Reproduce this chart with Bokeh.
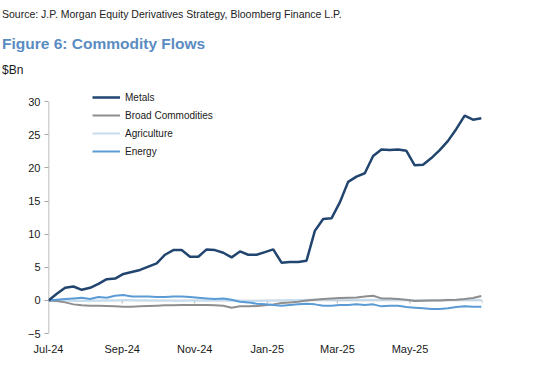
import pandas as pd
from bokeh.plotting import figure
from bokeh.layouts import column
from bokeh.models import (Range1d, FixedTicker, DatetimeTickFormatter, Span, Div,
                          Legend, LegendItem, ColumnDataSource)
from bokeh.embed import file_html
from bokeh.resources import INLINE

# ---------------- data ----------------
start_date = "2024-07-01"
n_weeks = 53

metals = [0.0, 1.0, 1.9, 2.1, 1.6, 1.9, 2.5, 3.2, 3.3, 4.0, 4.3, 4.6, 5.1, 5.6, 6.9,
          7.6, 7.6, 6.6, 6.6, 7.7, 7.6, 7.2, 6.5, 7.4, 6.9, 6.9, 7.3, 7.7, 5.7, 5.8,
          5.8, 6.0, 10.5, 12.3, 12.4, 14.8, 17.9, 18.7, 19.2, 21.8, 22.8, 22.7, 22.8,
          22.6, 20.4, 20.5, 21.5, 22.7, 24.1, 25.9, 27.9, 27.3, 27.5]
broad = [0.0, -0.1, -0.3, -0.6, -0.75, -0.8, -0.8, -0.85, -0.9, -0.95, -0.95, -0.9,
         -0.85, -0.8, -0.75, -0.75, -0.7, -0.7, -0.7, -0.7, -0.75, -0.8, -1.1, -0.9,
         -0.9, -0.85, -0.75, -0.6, -0.4, -0.3, -0.2, 0.0, 0.1, 0.2, 0.3, 0.35, 0.4,
         0.45, 0.6, 0.7, 0.3, 0.3, 0.2, 0.1, -0.1, -0.05, 0.0, 0.0, 0.05, 0.1, 0.2,
         0.35, 0.65]
agriculture = [0.0, 0.0, -0.05, -0.1, -0.1, -0.1, -0.05, 0.0, 0.0, 0.05, 0.05, 0.0,
               0.0, 0.0, 0.0, -0.05, -0.05, 0.0, 0.0, 0.0, 0.0, 0.0, -0.05, -0.05,
               -0.1, -0.1, -0.05, 0.0, 0.0, 0.05, 0.05, 0.1, 0.1, 0.1, 0.1, 0.15, 0.15,
               0.1, 0.1, 0.1, 0.1, 0.05, 0.05, 0.05, 0.05, 0.05, 0.05, 0.05, 0.1, 0.1,
               0.1, 0.1, 0.1]
energy = [0.0, 0.1, 0.2, 0.3, 0.4, 0.2, 0.5, 0.4, 0.7, 0.8, 0.6, 0.6, 0.6, 0.5, 0.5,
          0.6, 0.6, 0.5, 0.4, 0.3, 0.2, 0.3, 0.1, -0.2, -0.3, -0.5, -0.6, -0.7, -0.8,
          -0.7, -0.6, -0.5, -0.6, -0.8, -0.8, -0.7, -0.7, -0.6, -0.7, -0.6, -0.9, -0.8,
          -0.8, -1.0, -1.1, -1.2, -1.3, -1.3, -1.2, -1.0, -0.9, -0.95, -0.95]

series_names = ["Metals", "Broad Commodities", "Agriculture", "Energy"]
series_colors = ["#21456F", "#8E8E8E", "#C6DDF0", "#5B9BD5"]

x_label_dates = ["2024-07-01", "2024-09-01", "2024-11-01", "2025-01-01", "2025-03-01", "2025-05-01"]
zero_tick_dates = ["2024-09-01", "2024-11-01", "2025-01-01", "2025-03-01", "2025-05-01", "2025-07-01"]
y_ticks = [-5, 0, 5, 10, 15, 20, 25, 30]

source_text = "Source: J.P. Morgan Equity Derivatives Strategy, Bloomberg Finance L.P."
title_text = "Figure 6: Commodity Flows"
unit_text = "$Bn"

FONT = "Liberation Sans"

# ---------------- header ----------------
header_html = (
    f'<div style="font-family:\'{FONT}\';margin:0;padding-left:2px;">'
    f'<div style="margin-top:8px;height:12px;line-height:12px;font-size:10.5px;color:#222;white-space:nowrap;">{source_text}</div>'
    f'<div style="margin-top:15px;height:18px;line-height:18px;font-size:15.5px;font-weight:bold;color:#5A8CC2;white-space:nowrap;">{title_text}</div>'
    f'<div style="margin-top:10px;height:14px;line-height:14px;font-size:12px;color:#1a1a1a;">{unit_text}</div>'
    '</div>'
)
header = Div(text=header_html, width=555, height=84, margin=(0, 0, 0, 0))

# ---------------- figure ----------------
dates = pd.date_range(start_date, periods=n_weeks, freq="7D")
src = ColumnDataSource(dict(date=dates, metals=metals, broad=broad,
                            agriculture=agriculture, energy=energy))

x_start = pd.Timestamp("2024-07-01")
x_end = pd.Timestamp("2025-07-01")
p = figure(width=555, height=290, x_axis_type="datetime",
           x_range=Range1d(x_start, x_end), y_range=Range1d(-5, 32.46),
           output_backend="svg", toolbar_location=None,
           min_border_left=48, min_border_right=73, min_border_top=1, min_border_bottom=41,
           margin=(0, 0, 0, 0))
p.outline_line_color = None
p.xgrid.grid_line_color = None
p.ygrid.grid_line_color = None

# zero line with tick marks
p.add_layout(Span(location=0, dimension="width", line_color="#BFBFBF", line_width=1.5,
                  level="underlay"))
zt = [pd.Timestamp(d) for d in zero_tick_dates]
p.segment(x0=zt, y0=[0] * len(zt), x1=zt, y1=[-0.45] * len(zt),
          line_color="#BFBFBF", line_width=1.2, level="underlay")

# y axis line from -5 to 30 only
p.segment(x0=[x_start], y0=[y_ticks[0]], x1=[x_start], y1=[y_ticks[-1]],
          line_color="#A6A6A6", line_width=1.5, level="underlay")

# lines
r_agri = p.line("date", "agriculture", source=src, line_color=series_colors[2], line_width=2)
r_broad = p.line("date", "broad", source=src, line_color=series_colors[1], line_width=2)
r_energy = p.line("date", "energy", source=src, line_color=series_colors[3], line_width=2)
r_metals = p.line("date", "metals", source=src, line_color=series_colors[0], line_width=2.5)

# y axis
ya = p.yaxis[0]
ya.ticker = FixedTicker(ticks=y_ticks)
ya.axis_line_color = None
ya.major_tick_line_color = "#A6A6A6"
ya.major_tick_out = 4
ya.major_tick_in = 0
ya.minor_tick_line_color = None
ya.major_label_standoff = 4
ya.major_label_text_font = FONT
ya.major_label_text_font_size = "11px"
ya.major_label_text_color = "#1a1a1a"

# x axis (labels only)
xa = p.xaxis[0]
xa.ticker = FixedTicker(ticks=[pd.Timestamp(d).value / 1e6 for d in x_label_dates])
xa.formatter = DatetimeTickFormatter(months="%b-%y", days="%b-%y", years="%b-%y")
xa.axis_line_color = None
xa.major_tick_line_color = None
xa.minor_tick_line_color = None
xa.major_label_standoff = 3
xa.major_label_text_font = FONT
xa.major_label_text_font_size = "11px"
xa.major_label_text_color = "#1a1a1a"

# legend
legend = Legend(items=[LegendItem(label=series_names[0], renderers=[r_metals]),
                       LegendItem(label=series_names[1], renderers=[r_broad]),
                       LegendItem(label=series_names[2], renderers=[r_agri]),
                       LegendItem(label=series_names[3], renderers=[r_energy])],
                location=(44, 173), glyph_width=28, glyph_height=18, label_height=18,
                spacing=0, padding=0, margin=0, border_line_color=None,
                background_fill_alpha=0, label_standoff=5,
                label_text_font=FONT, label_text_font_size="10px",
                label_text_color="#1a1a1a")
p.add_layout(legend)

layout = column(header, p, spacing=0, margin=(0, 0, 0, 0))
open("out.html", "w").write(file_html(layout, INLINE))
